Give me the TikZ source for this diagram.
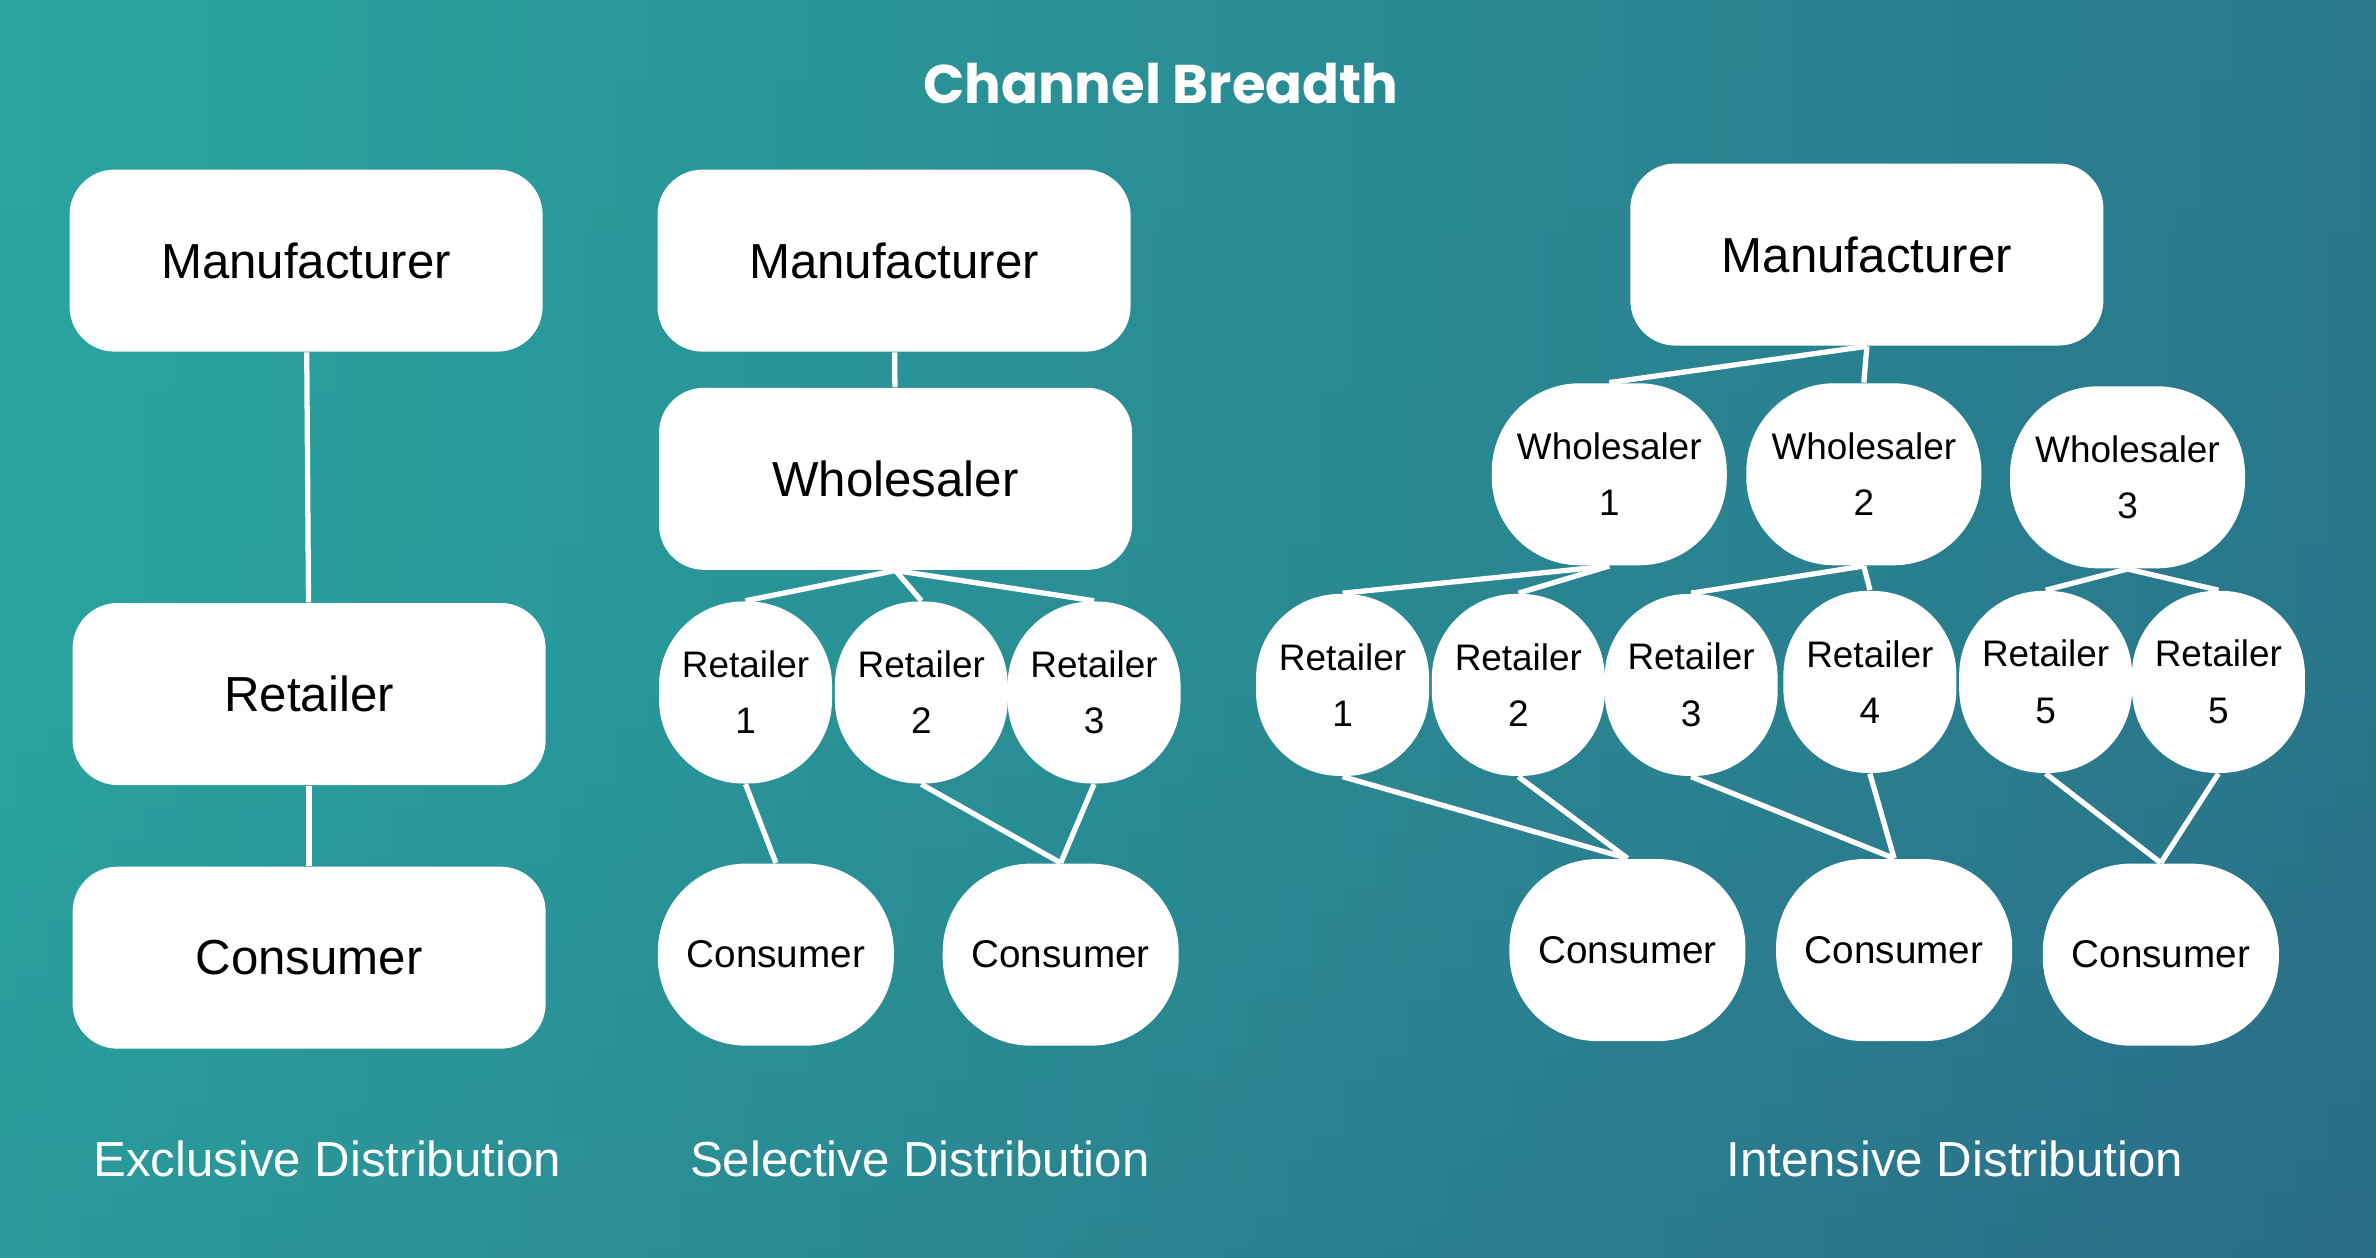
\documentclass[tikz,border=0pt]{standalone}
\usepackage{fontspec}
\setmainfont{Liberation Sans}
\newfontfamily\titlefont{Poppins}
\usetikzlibrary{shapes.geometric, positioning}
\definecolor{bgteal}{HTML}{29A59E}
\definecolor{bgblue}{HTML}{2A5A80}
\definecolor{bgmid}{HTML}{2C8A94}

\begin{document}
\begin{tikzpicture}[
    x=0.01515cm, y=-0.01515cm,
    box/.style={rectangle, rounded corners=0.45cm, fill=white, minimum width=4.73cm, minimum height=1.82cm, font=\fontsize{14}{17}\selectfont},
    ret/.style={rectangle, rounded corners=0.84cm, fill=white, minimum width=1.73cm, minimum height=1.82cm, inner sep=0pt, align=center, font=\fontsize{10.5}{16}\selectfont},
    whs/.style={rectangle, rounded corners=0.88cm, fill=white, minimum width=2.35cm, minimum height=1.82cm, inner sep=0pt, align=center, font=\fontsize{10.5}{16}\selectfont},
    con/.style={rectangle, rounded corners=0.88cm, fill=white, minimum width=2.36cm, minimum height=1.82cm, inner sep=0pt, font=\fontsize{11}{14}\selectfont},
    link/.style={draw=white, line width=1.5pt},
    caption/.style={text=white, font=\fontsize{14}{17}\selectfont}
]

% background
\shade[top color=bgteal, bottom color=bgmid, middle color=bgteal!85!bgmid] (0,0) rectangle (1568,830);
\shade[left color=bgteal, right color=bgblue, opacity=0.6] (0,0) rectangle (1568,830);
\useasboundingbox (0,0) rectangle (1568,830);

\node[text=white, font=\titlefont\bfseries\fontsize{15.5}{19}\selectfont] (title) at (766,55) {Channel Breadth};

% exclusive
\node[box] (em) at (202,172) {Manufacturer};
\node[box] (er) at (204,458) {Retailer};
\node[box] (ec) at (204,632) {Consumer};
\draw[link] (em) -- (er);
\draw[link] (er) -- (ec);
\node[caption] (ecap) at (216,765) {Exclusive Distribution};

% selective
\node[box] (sm) at (590,172) {Manufacturer};
\node[box] (sw) at (591,316) {Wholesaler};
\node[ret] (sr1) at (492,457) {Retailer\\1};
\node[ret] (sr2) at (608,457) {Retailer\\2};
\node[ret] (sr3) at (722,457) {Retailer\\3};
\node[con] (sc1) at (512,630) {Consumer};
\node[con] (sc2) at (700,630) {Consumer};
\draw[link] (sm) -- (sw);
\foreach \r in {sr1,sr2,sr3} \draw[link] (sw.south) -- (\r.north);
\draw[link] (sr1.south) -- (sc1.north);
\draw[link] (sr2.south) -- (sc2.north);
\draw[link] (sr3.south) -- (sc2.north);
\node[caption] (scap) at (607,765) {Selective Distribution};

% intensive
\node[box] (im) at (1232,168) {Manufacturer};
\node[whs] (iw1) at (1062,313) {Wholesaler\\1};
\node[whs] (iw2) at (1230,313) {Wholesaler\\2};
\node[whs] (iw3) at (1404,315) {Wholesaler\\3};
\node[ret] (ir1) at (886,452) {Retailer\\1};
\node[ret] (ir2) at (1002,452) {Retailer\\2};
\node[ret] (ir3) at (1116,452) {Retailer\\3};
\node[ret] (ir4) at (1234,450) {Retailer\\4};
\node[ret] (ir5) at (1350,450) {Retailer\\5};
\node[ret] (ir6) at (1464,450) {Retailer\\5};
\node[con] (ic1) at (1074,627) {Consumer};
\node[con] (ic2) at (1250,627) {Consumer};
\node[con] (ic3) at (1426,630) {Consumer};
\draw[link] (im.south) -- (iw1.north);
\draw[link] (im.south) -- (iw2.north);
\draw[link] (iw1.south) -- (ir1.north);
\draw[link] (iw1.south) -- (ir2.north);
\draw[link] (iw2.south) -- (ir3.north);
\draw[link] (iw2.south) -- (ir4.north);
\draw[link] (iw3.south) -- (ir5.north);
\draw[link] (iw3.south) -- (ir6.north);
\draw[link] (ir1.south) -- (ic1.north);
\draw[link] (ir2.south) -- (ic1.north);
\draw[link] (ir3.south) -- (ic2.north);
\draw[link] (ir4.south) -- (ic2.north);
\draw[link] (ir5.south) -- (ic3.north);
\draw[link] (ir6.south) -- (ic3.north);
\node[caption] (icap) at (1290,765) {Intensive Distribution};

\end{tikzpicture}
\end{document}
